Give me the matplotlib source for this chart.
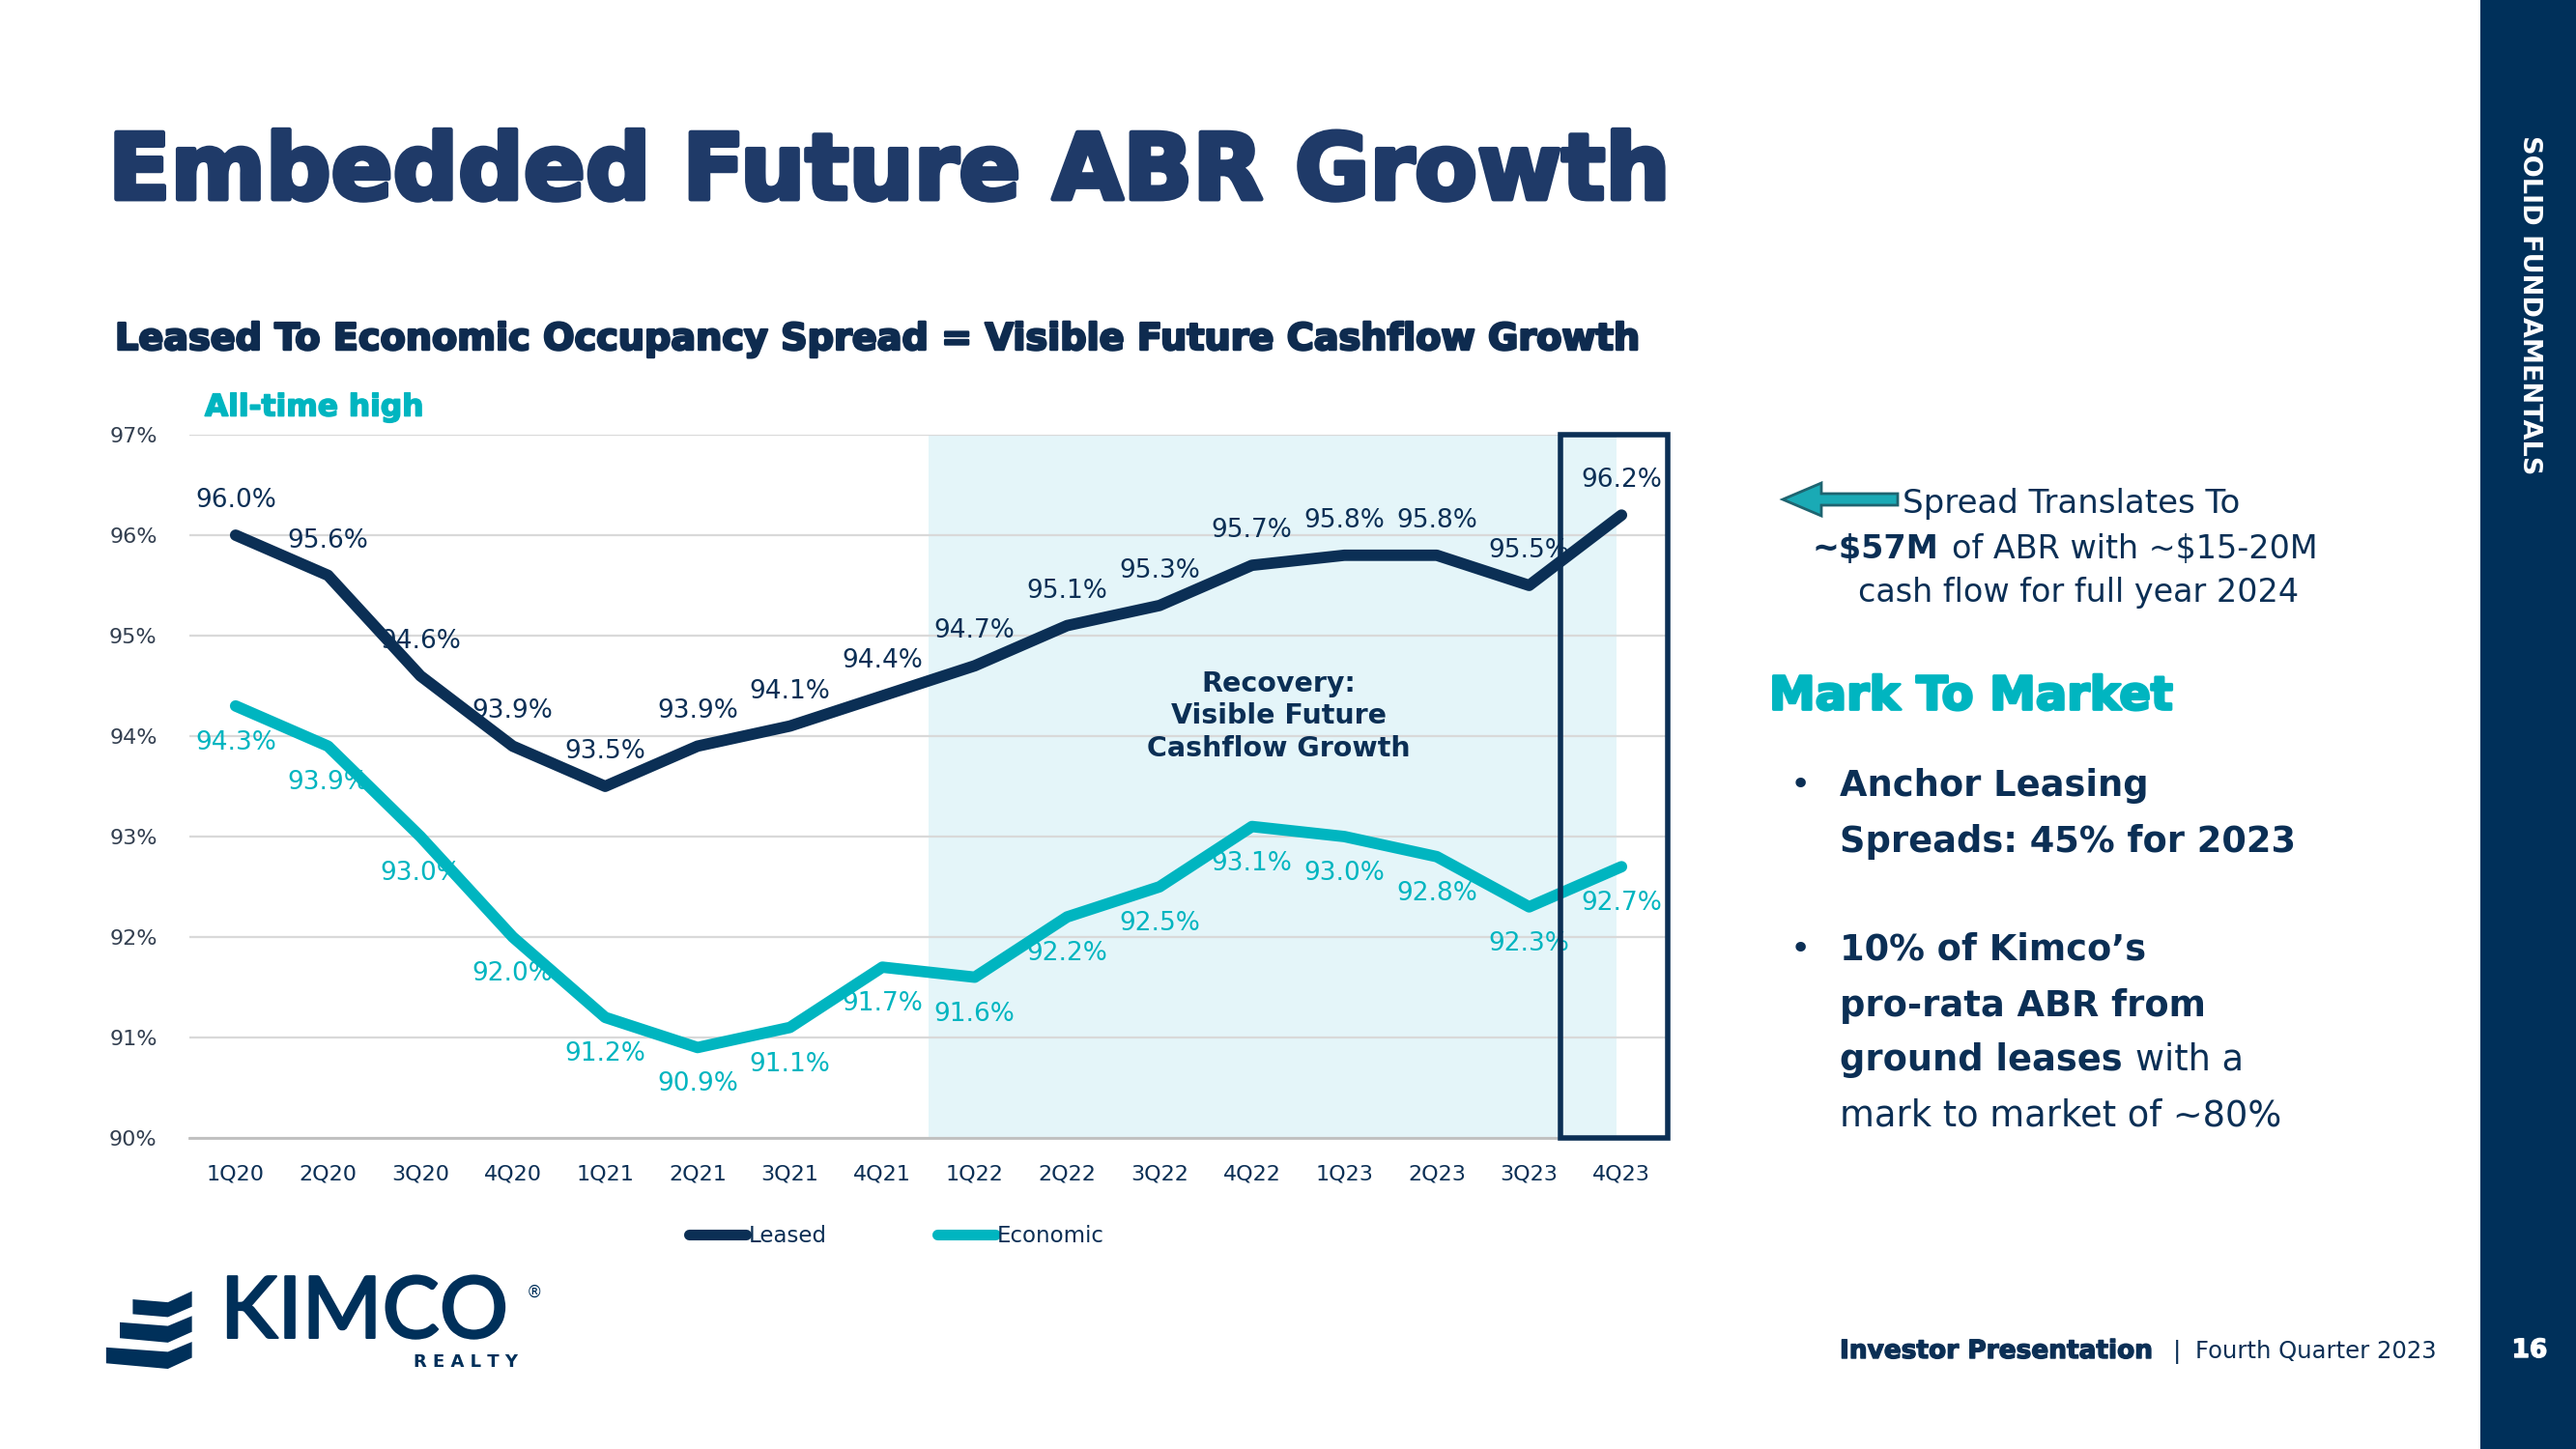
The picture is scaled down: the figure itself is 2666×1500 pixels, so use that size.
import matplotlib.pyplot as plt
import matplotlib.patheffects as pe
from matplotlib.patches import Polygon, Rectangle
from matplotlib.lines import Line2D
import numpy as np

# data
quarters = ["1Q20", "2Q20", "3Q20", "4Q20", "1Q21", "2Q21", "3Q21", "4Q21",
            "1Q22", "2Q22", "3Q22", "4Q22", "1Q23", "2Q23", "3Q23", "4Q23"]
leased = [96.0, 95.6, 94.6, 93.9, 93.5, 93.9, 94.1, 94.4,
          94.7, 95.1, 95.3, 95.7, 95.8, 95.8, 95.5, 96.2]
economic = [94.3, 93.9, 93.0, 92.0, 91.2, 90.9, 91.1, 91.7,
            91.6, 92.2, 92.5, 93.1, 93.0, 92.8, 92.3, 92.7]
y_ticks = [90, 91, 92, 93, 94, 95, 96, 97]

NAVY = "#0B2F55"
TITLE = "#1F3A68"
TEAL = "#00B5C0"
SHADE = "#E4F5F9"
BAR = "#00305A"
GRID = "#D9D9D9"

W, H = 2666, 1500
fig = plt.figure(figsize=(W / 100, H / 100), dpi=100)
fig.patch.set_facecolor("white")


def fx(x):
    return x / W


def fy(y):
    return 1 - y / H


def heavy(w, c):
    return [pe.withStroke(linewidth=w, foreground=c)]


# chart
ax = fig.add_axes([fx(196), fy(1178), (1726 - 196) / W, (1178 - 450) / H])
x = np.arange(len(quarters))
ax.axvspan(7.5, 14.95, color=SHADE, lw=0, zorder=0)
ax.plot(x, leased, color=NAVY, lw=8.5, solid_capstyle="round", zorder=3, label="Leased")
ax.plot(x, economic, color=TEAL, lw=8.5, solid_capstyle="round", zorder=3, label="Economic")
ax.set_xlim(-0.5, 15.5)
ax.set_ylim(90, 97)
ax.set_yticks(y_ticks)
ax.set_yticklabels([f"{v}%" for v in y_ticks], fontsize=16, color="#333F50")
ax.set_xticks(x)
ax.set_xticklabels(quarters, fontsize=16, color=NAVY)
ax.tick_params(length=0, pad=20)
ax.tick_params(axis="y", pad=24)
ax.grid(axis="y", color=GRID, lw=1.6)
ax.set_axisbelow(True)
for s in ["top", "left", "right"]:
    ax.spines[s].set_visible(False)
ax.spines["bottom"].set_color("#BFBFBF")
ax.spines["bottom"].set_linewidth(2)

for i, v in enumerate(leased):
    ax.annotate(f"{v:.1f}%", (i, v), xytext=(0, 36), textcoords="offset pixels",
                ha="center", va="center", fontsize=19, color=NAVY, zorder=4)
for i, v in enumerate(economic):
    ax.annotate(f"{v:.1f}%", (i, v), xytext=(0, -38), textcoords="offset pixels",
                ha="center", va="center", fontsize=19, color=TEAL, zorder=4)

ax.text(11.29, 94.2, "Recovery:\nVisible Future\nCashflow Growth", ha="center", va="center",
        fontsize=20.5, fontweight="bold", color=NAVY, linespacing=1.25)

ax.add_patch(Rectangle((14.34, 90), 15.5 - 14.34, 7, fill=False, edgecolor=NAVY,
                       lw=4, clip_on=False, zorder=5))

handles = [Line2D([], [], color=NAVY, lw=8, solid_capstyle="round"),
           Line2D([], [], color=TEAL, lw=8, solid_capstyle="round")]
fig.legend(handles, ["Leased", "Economic"], loc="center", bbox_to_anchor=(fx(928), fy(1280)),
           ncol=2, frameon=False, handlelength=2.6, handletextpad=0.1, columnspacing=5,
           fontsize=16.5, labelcolor=NAVY)

# titles
fig.text(fx(112), fy(180), "Embedded Future ABR Growth", fontsize=68, fontweight="bold",
         color=TITLE, ha="left", va="center", path_effects=heavy(3.5, TITLE))
fig.text(fx(119), fy(352), "Leased To Economic Occupancy Spread = Visible Future Cashflow Growth",
         fontsize=27.5, fontweight="bold", color="#0E2B4F", ha="left", va="center",
         path_effects=heavy(1.8, "#0E2B4F"))
fig.text(fx(212), fy(422), "All-time high", fontsize=22.5, fontweight="bold",
         color=TEAL, ha="left", va="center", path_effects=heavy(1.2, TEAL))

# right side notes
arrow = [(1845, 517), (1885, 500), (1885, 511), (1964, 511), (1964, 523),
         (1885, 523), (1885, 534)]
fig.add_artist(Polygon([(fx(a), fy(b)) for a, b in arrow], closed=True,
                       transform=fig.transFigure, facecolor="#1AAAB5", edgecolor="#1E6470", lw=2))
fig.text(fx(1969), fy(522), "Spread Translates To", fontsize=24.5, color=NAVY,
         ha="left", va="center")
fig.text(fx(2006), fy(568), "~$57M", fontsize=24, fontweight="bold", color=NAVY,
         ha="right", va="center")
fig.text(fx(2020), fy(568), "of ABR with ~$15-20M", fontsize=24, color=NAVY,
         ha="left", va="center")
fig.text(fx(2151), fy(614), "cash flow for full year 2024", fontsize=24, color=NAVY,
         ha="center", va="center")

fig.text(fx(1831), fy(721), "Mark To Market", fontsize=34.5, fontweight="bold", color=TEAL,
         ha="left", va="center", path_effects=heavy(2, TEAL))

fig.text(fx(1853), fy(813), "•", fontsize=26, color=NAVY, ha="left", va="center")
fig.text(fx(1904), fy(813), "Anchor Leasing", fontsize=26.5, fontweight="bold", color=NAVY,
         ha="left", va="center")
fig.text(fx(1904), fy(871), "Spreads: 45% for 2023", fontsize=26.5, fontweight="bold", color=NAVY,
         ha="left", va="center")
fig.text(fx(1853), fy(983), "•", fontsize=26, color=NAVY, ha="left", va="center")
fig.text(fx(1904), fy(983), "10% of Kimco’s", fontsize=26.5, fontweight="bold", color=NAVY,
         ha="left", va="center")
fig.text(fx(1904), fy(1041), "pro-rata ABR from", fontsize=26.5, fontweight="bold", color=NAVY,
         ha="left", va="center")
fig.text(fx(1904), fy(1097), "ground leases", fontsize=26.5, fontweight="bold", color=NAVY,
         ha="left", va="center")
fig.text(fx(2210), fy(1097), "with a", fontsize=26.5, color=NAVY, ha="left", va="center")
fig.text(fx(1904), fy(1155), "mark to market of ~80%", fontsize=26.5, color=NAVY,
         ha="left", va="center")

# side bar
fig.add_artist(Rectangle((fx(2567), 0), (W - 2567) / W, 1, transform=fig.transFigure,
                         facecolor=BAR, edgecolor="none"))
fig.text(fx(2618), fy(316), "SOLID FUNDAMENTALS", rotation=-90, fontsize=19.5, fontweight="bold",
         color="white", ha="center", va="center")
fig.text(fx(2618), fy(1398), "16", fontsize=19, fontweight="bold", color="white",
         ha="center", va="center", path_effects=heavy(1, "white"))

# footer
fig.text(fx(1904), fy(1399), "Investor Presentation", fontsize=19, fontweight="bold", color=NAVY,
         ha="left", va="center", path_effects=heavy(1, NAVY))
fig.text(fx(2253), fy(1399), "|", fontsize=18, color=NAVY, ha="center", va="center")
fig.text(fx(2272), fy(1399), "Fourth Quarter 2023", fontsize=17.5, color=NAVY,
         ha="left", va="center")

# logo
bars = [
    [(150, 170), (245, 178), (310, 148), (310, 190), (245, 218), (150, 210)],
    [(115, 232), (245, 242), (310, 215), (310, 258), (245, 287), (115, 275)],
    [(78, 300), (245, 312), (310, 285), (310, 328), (245, 358), (78, 343)],
]
for b in bars:
    pts = [(fx(80 + a / 2.613), fy(1280 + c / 2.613)) for a, c in b]
    fig.add_artist(Polygon(pts, closed=True, transform=fig.transFigure,
                           facecolor=BAR, edgecolor="none"))
fig.text(fx(228), fy(1360), "KIMCO", fontsize=64, color=BAR, ha="left", va="center",
         family="Lato", fontweight="medium", path_effects=heavy(1.5, BAR))
fig.text(fx(545), fy(1338), "®", fontsize=12, color=BAR, ha="left", va="center")
fig.text(fx(482), fy(1410), "R E A L T Y", fontsize=13, fontweight="bold", color=BAR,
         ha="center", va="center")

fig.savefig("out.png", dpi=100, facecolor="white")
